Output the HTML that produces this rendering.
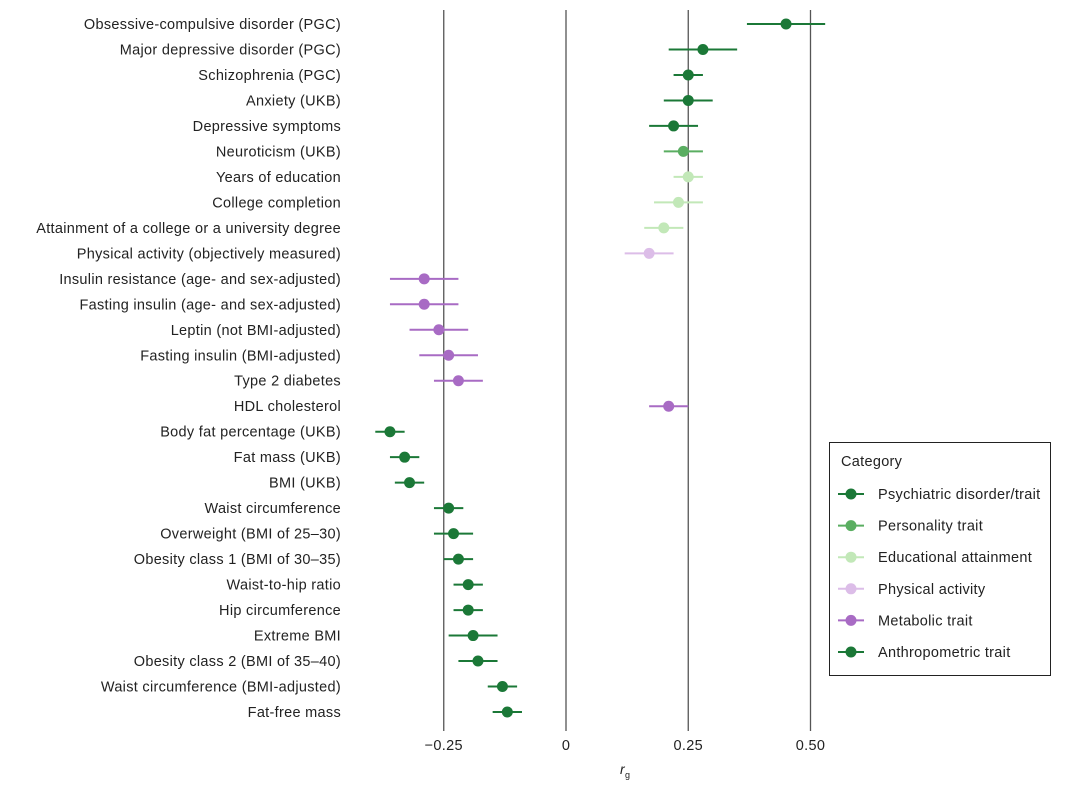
<!DOCTYPE html>
<html><head><meta charset="utf-8"><style>
body{margin:0;background:#fff;font-family:"Liberation Sans",sans-serif;}
svg{display:block}
text{letter-spacing:0.3px}
</style></head><body>
<svg id="chart" width="1080" height="787" xmlns="http://www.w3.org/2000/svg"></svg>
<script>
const traits=["Obsessive-compulsive disorder (PGC)","Major depressive disorder (PGC)","Schizophrenia (PGC)","Anxiety (UKB)","Depressive symptoms","Neuroticism (UKB)","Years of education","College completion","Attainment of a college or a university degree","Physical activity (objectively measured)","Insulin resistance (age- and sex-adjusted)","Fasting insulin (age- and sex-adjusted)","Leptin (not BMI-adjusted)","Fasting insulin (BMI-adjusted)","Type 2 diabetes","HDL cholesterol","Body fat percentage (UKB)","Fat mass (UKB)","BMI (UKB)","Waist circumference","Overweight (BMI of 25–30)","Obesity class 1 (BMI of 30–35)","Waist-to-hip ratio","Hip circumference","Extreme BMI","Obesity class 2 (BMI of 35–40)","Waist circumference (BMI-adjusted)","Fat-free mass"];
const rg=[0.45,0.28,0.25,0.25,0.22,0.24,0.25,0.23,0.20,0.17,-0.29,-0.29,-0.26,-0.24,-0.22,0.21,-0.36,-0.33,-0.32,-0.24,-0.23,-0.22,-0.20,-0.20,-0.19,-0.18,-0.13,-0.12];
const lo=[0.37,0.21,0.22,0.20,0.17,0.20,0.22,0.18,0.16,0.12,-0.36,-0.36,-0.32,-0.30,-0.27,0.17,-0.39,-0.36,-0.35,-0.27,-0.27,-0.25,-0.23,-0.23,-0.24,-0.22,-0.16,-0.15];
const hi=[0.53,0.35,0.28,0.30,0.27,0.28,0.28,0.28,0.24,0.22,-0.22,-0.22,-0.20,-0.18,-0.17,0.25,-0.33,-0.30,-0.29,-0.21,-0.19,-0.19,-0.17,-0.17,-0.14,-0.14,-0.10,-0.09];
const cat=[0,0,0,0,0,1,2,2,2,3,4,4,4,4,4,4,5,5,5,5,5,5,5,5,5,5,5,5];
const catNames=["Psychiatric disorder/trait","Personality trait","Educational attainment","Physical activity","Metabolic trait","Anthropometric trait"];
const ticks=[-0.25,0,0.25,0.5];
const tickLabels=["−0.25","0","0.25","0.50"];
const colors=["#1b7837","#5aae61","#c2e8b8","#dcbde8","#a86bc4","#1b7837"];

const svg=document.getElementById('chart');
const NS="http://www.w3.org/2000/svg";
const x=v=>566+v*489;
const y=i=>24+i*(712-24)/(traits.length-1);
function mk(t,a,p){const e=document.createElementNS(NS,t);for(const k in a)e.setAttribute(k,a[k]);(p||svg).appendChild(e);return e;}
ticks.forEach((t,i)=>{
  const l=mk('line',{x1:x(t),x2:x(t),y1:10,y2:731,stroke:'#555','stroke-width':1.3});
  
  
  const tx=mk('text',{x:x(t),y:750,'text-anchor':'middle','font-size':14.5,fill:'#222'});
  tx.textContent=tickLabels[i];
  
  
});
const xt=mk('text',{x:620,y:774,'font-size':14,'font-style':'italic',fill:'#222'});
xt.innerHTML='r<tspan font-size="9" dy="4" font-style="normal">g</tspan>';


traits.forEach((n,i)=>{
  const c=colors[cat[i]];
  const g=mk('g',{});
  
  
  const t=mk('text',{x:341,y:y(i)+5,'text-anchor':'end','font-size':14.5,fill:'#222'},g);
  t.textContent=n;
  
  
  mk('line',{x1:x(lo[i]),x2:x(hi[i]),y1:y(i),y2:y(i),stroke:c,'stroke-width':2},g);
  const p=mk('circle',{cx:x(rg[i]),cy:y(i),r:5.5,fill:c},g);
  
  
});
const lg=mk('g',{});


mk('rect',{x:829.5,y:442.5,width:221,height:233,fill:'#fff',stroke:'#222','stroke-width':1},lg);
const lt=mk('text',{x:841,y:466,'font-size':14.5,fill:'#222'},lg);lt.textContent='Category';
catNames.forEach((n,i)=>{
  const yy=494+i*31.6;
  const e=mk('g',{},lg);
  
  
  mk('line',{x1:838,x2:864,y1:yy,y2:yy,stroke:colors[i],'stroke-width':2},e);
  mk('circle',{cx:851,cy:yy,r:5.5,fill:colors[i]},e);
  const t=mk('text',{x:878,y:yy+5,'font-size':14.5,fill:'#222'},e);t.textContent=n;
});
</script>
</body></html>
